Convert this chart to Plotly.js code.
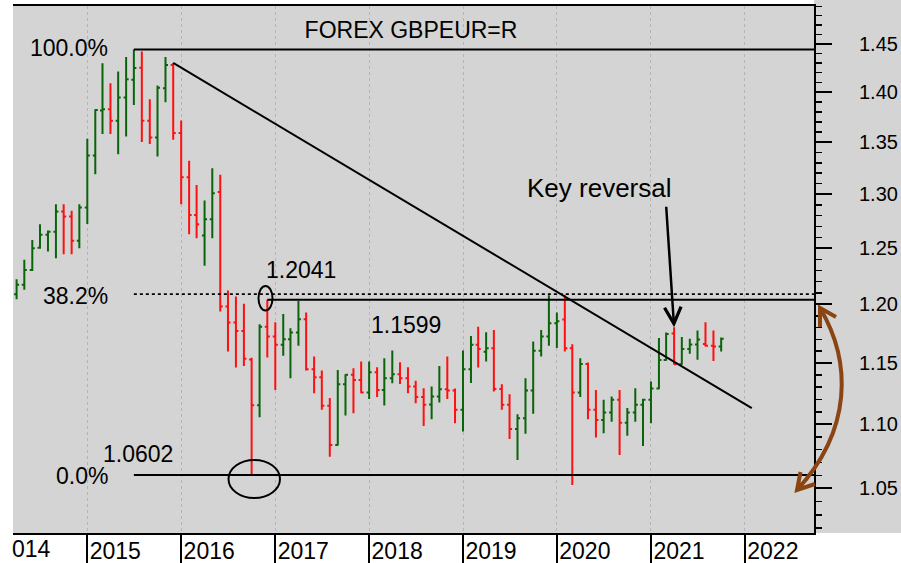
<!DOCTYPE html>
<html><head><meta charset="utf-8">
<script src="https://cdn.plot.ly/plotly-3.0.1.min.js"></script>
<style>html,body{margin:0;padding:0;background:#fff;}#chart{width:901px;height:563px;}</style>
</head><body><div id="chart"></div>
<script>
// ---- data: monthly bars GBPEUR ----
const months = [
'2014-04-01','2014-05-01','2014-06-01','2014-07-01','2014-08-01','2014-09-01','2014-10-01','2014-11-01','2014-12-01',
'2015-01-01','2015-02-01','2015-03-01','2015-04-01','2015-05-01','2015-06-01','2015-07-01','2015-08-01','2015-09-01','2015-10-01','2015-11-01','2015-12-01',
'2016-01-01','2016-02-01','2016-03-01','2016-04-01','2016-05-01','2016-06-01','2016-07-01','2016-08-01','2016-09-01','2016-10-01','2016-11-01','2016-12-01',
'2017-01-01','2017-02-01','2017-03-01','2017-04-01','2017-05-01','2017-06-01','2017-07-01','2017-08-01','2017-09-01','2017-10-01','2017-11-01','2017-12-01',
'2018-01-01','2018-02-01','2018-03-01','2018-04-01','2018-05-01','2018-06-01','2018-07-01','2018-08-01','2018-09-01','2018-10-01','2018-11-01','2018-12-01',
'2019-01-01','2019-02-01','2019-03-01','2019-04-01','2019-05-01','2019-06-01','2019-07-01','2019-08-01','2019-09-01','2019-10-01','2019-11-01','2019-12-01',
'2020-01-01','2020-02-01','2020-03-01','2020-04-01','2020-05-01','2020-06-01','2020-07-01','2020-08-01','2020-09-01','2020-10-01','2020-11-01','2020-12-01',
'2021-01-01','2021-02-01','2021-03-01','2021-04-01','2021-05-01','2021-06-01','2021-07-01','2021-08-01','2021-09-01','2021-10-01'];
const openP = [
1.2090,1.2172,1.2305,1.2505,1.2622,1.2650,1.2837,1.2791,1.2567,
1.2875,1.3371,1.3815,1.3828,1.3712,1.3945,1.4126,1.4250,1.3712,1.3546,1.4040,1.4278,
1.3590,1.3161,1.2806,1.2616,1.2766,1.3020,1.1982,1.1843,1.1771,1.1530,1.1152,1.1808,
1.1723,1.1653,1.1701,1.1757,1.1872,1.1449,1.1382,1.1148,1.0836,1.1325,1.1402,1.1360,
1.1256,1.1424,1.1278,1.1374,1.1407,1.1374,1.1305,1.1219,1.1160,1.1224,1.1284,1.1272,
1.1116,1.1449,1.1653,1.1595,1.1625,1.1286,1.1157,1.0963,1.1049,1.1272,1.1603,1.1723,
1.1838,1.1870,1.1625,1.1256,1.1492,1.1116,1.1035,1.1094,1.1197,1.1013,1.1094,1.1157,
1.1197,1.1290,1.1525,1.1750,1.1490,1.1617,1.1655,1.1660,1.1645,1.1640];
const highP = [
1.2222,1.2395,1.2576,1.2720,1.2662,1.2906,1.2906,1.2846,1.2906,
1.3534,1.3828,1.4298,1.4092,1.4212,1.4361,1.4440,1.4419,1.3929,1.4068,1.4361,1.4300,
1.3715,1.3319,1.3088,1.2940,1.3248,1.3184,1.2122,1.2069,1.2005,1.1545,1.1829,1.2041,
1.1846,1.1918,1.1795,1.2030,1.1929,1.1555,1.1437,1.1211,1.1443,1.1407,1.1457,1.1513,
1.1513,1.1465,1.1541,1.1605,1.1507,1.1465,1.1354,1.1292,1.1305,1.1476,1.1555,1.1290,
1.1605,1.1728,1.1808,1.1761,1.1780,1.1325,1.1243,1.1081,1.1374,1.1681,1.1780,1.2080,
1.1929,1.2085,1.1658,1.1541,1.1505,1.1278,1.1197,1.1223,1.1278,1.1130,1.1292,1.1205,
1.1346,1.1712,1.1757,1.1803,1.1720,1.1705,1.1774,1.1846,1.1774,1.1716];
const lowP = [
1.2046,1.2128,1.2296,1.2495,1.2470,1.2410,1.2446,1.2446,1.2500,
1.2723,1.3191,1.3580,1.3580,1.3384,1.3556,1.3871,1.3502,1.3482,1.3362,1.3899,1.3524,
1.2906,1.2628,1.2591,1.2341,1.2591,1.1938,1.1597,1.1462,1.1476,1.0602,1.1057,1.1546,
1.1278,1.1561,1.1374,1.1645,1.1437,1.1251,1.1116,1.0743,1.0831,1.1070,1.1089,1.1251,
1.1203,1.1219,1.1151,1.1333,1.1327,1.1251,1.1170,1.0987,1.1041,1.1175,1.1203,1.1009,
1.0942,1.1335,1.1462,1.1513,1.1264,1.1116,1.0882,1.0719,1.0924,1.1084,1.1555,1.1645,
1.1627,1.1597,1.0526,1.1219,1.1041,1.0894,1.0929,1.1021,1.0758,1.0908,1.1021,1.0828,
1.1008,1.1284,1.1520,1.1485,1.1485,1.1578,1.1527,1.1639,1.1518,1.1597];
const closeP = [
1.2172,1.2305,1.2500,1.2622,1.2650,1.2837,1.2791,1.2567,1.2875,
1.3371,1.3821,1.3828,1.3712,1.3945,1.4133,1.4247,1.3712,1.3546,1.4045,1.4278,1.3590,
1.3161,1.2806,1.2720,1.2766,1.3010,1.1982,1.1843,1.1771,1.1535,1.1152,1.1808,1.1723,
1.1653,1.1701,1.1757,1.1872,1.1449,1.1382,1.1148,1.0836,1.1325,1.1402,1.1360,1.1256,
1.1424,1.1278,1.1374,1.1407,1.1374,1.1305,1.1219,1.1157,1.1224,1.1284,1.1272,1.1116,
1.1449,1.1653,1.1617,1.1625,1.1286,1.1157,1.0963,1.1049,1.1272,1.1603,1.1723,1.1838,
1.1855,1.1625,1.1256,1.1492,1.1116,1.1035,1.1094,1.1197,1.1013,1.1094,1.1157,1.1197,
1.1290,1.1525,1.1746,1.1490,1.1617,1.1655,1.1698,1.1645,1.1640,1.1705];

// axis ticks
const yTickVals = [1.05,1.10,1.15,1.20,1.25,1.30,1.35,1.40,1.45];
const yTickText = ['1.05','1.10','1.15','1.20','1.25','1.30','1.35','1.40','1.45'];
const xTickVals = ['2015-01-01','2016-01-01','2017-01-01','2018-01-01','2019-01-01','2020-01-01','2021-01-01','2022-01-01'];
const xTickText = ['2015','2016','2017','2018','2019','2020','2021','2022'];

// annotated levels
const fibHigh = 1.4440, fibLow = 1.0602, fib382 = 1.2090;
const fibStart = '2015-07-01';
const resistance = 1.2041, resistanceStart = '2016-12-01';
const trendStart = ['2015-12-01', 1.4300], trendEnd = ['2022-01-28', 1.1130];
const keyReversal = ['2021-04-01', 1.1803];

const xRange = ['2014-03-18','2022-09-27'];
const yRange = [1.01648, 1.4904];

// minor tick positions (every 0.01)
const minorVals = [];
for (let k = 102; k <= 149; k++) { if (k % 5 !== 0) minorVals.push(k/100); }

// pixel -> paper helpers for decorations
const L = 13, R = 814, T = 6, B = 533;
const px = v => (v - L) / (R - L);
const py = v => (B - v) / (B - T);

const FONT = 'Liberation Sans, Arial, sans-serif';

const ohlc = {
  type: 'ohlc', x: months, open: openP, high: highP, low: lowP, close: closeP,
  increasing: {line: {color: '#0a640a', width: 2}},
  decreasing: {line: {color: '#ff1010', width: 2}},
  tickwidth: 0.35, showlegend: false, hoverinfo: 'skip'
};
const dummy = {type: 'scatter', x: [], y: [], yaxis: 'y2', showlegend: false, hoverinfo: 'skip'};

const brownPath =
  `M ${px(820)},${py(308)} C ${px(852)},${py(362)} ${px(852)},${py(430)} ${px(797)},${py(490)} ` +
  `M ${px(820)},${py(327)} L ${px(820)},${py(308)} L ${px(836)},${py(317)} ` +
  `M ${px(815)},${py(484)} L ${px(797)},${py(490)} L ${px(800.5)},${py(472)}`;

const shapes = [
  // gray right column (axis area)
  {type:'rect', xref:'paper', yref:'paper', x0:1, x1:px(901), y0:0, y1:py(0), fillcolor:'#d4d4d4', line:{width:0}, layer:'below'},
  {type:'line', xref:'x', yref:'y', x0:fibStart, x1:xRange[1], y0:fibHigh, y1:fibHigh, line:{color:'#000', width:2}},
  {type:'line', xref:'x', yref:'y', x0:fibStart, x1:xRange[1], y0:fib382, y1:fib382, line:{color:'#000', width:1.6, dash:'dot'}},
  {type:'line', xref:'x', yref:'y', x0:fibStart, x1:xRange[1], y0:fibLow, y1:fibLow, line:{color:'#000', width:2}},
  {type:'line', xref:'x', yref:'y', x0:resistanceStart, x1:xRange[1], y0:resistance, y1:resistance, line:{color:'#000', width:2}},
  {type:'line', xref:'x', yref:'y', x0:trendStart[0], y0:trendStart[1], x1:trendEnd[0], y1:trendEnd[1], line:{color:'#000', width:2}},
  {type:'circle', xref:'paper', yref:'paper', x0:px(258.5), x1:px(272.5), y0:py(310.5), y1:py(286), line:{color:'#000', width:2}},
  {type:'circle', xref:'paper', yref:'paper', x0:px(228.5), x1:px(280), y0:py(498), y1:py(460), line:{color:'#000', width:2}},
  {type:'path', xref:'paper', yref:'paper', path: brownPath, line:{color:'#8b4513', width:4}}
];

function lab(text, x, y, xanchor, size) {
  return {xref:'paper', yref:'paper', x:px(x), y:py(y), xanchor:xanchor, yanchor:'middle',
          text:text, showarrow:false, font:{family:FONT, size:size || 23, color:'#000'}};
}
const annotations = [
  lab('100.0%', 110, 48, 'right'),
  lab('38.2%', 110, 296, 'right'),
  lab('0.0%', 110, 476, 'right'),
  lab('1.0602', 101, 454, 'left'),
  lab('1.2041', 264, 270, 'left'),
  lab('1.1599', 369, 325, 'left'),
  lab('014', 10, 549, 'left'),
  lab('Key reversal', 525, 188, 'left', 26),
  {xref:'x', yref:'y', x:keyReversal[0], y:Math.log10(keyReversal[1]), text:'', showarrow:true,
   ax:-8, ay:-122, arrowhead:5, arrowsize:1.3, arrowwidth:2.5, arrowcolor:'#000', standoff:0}
];

const layout = {
  width: 901, height: 563,
  margin: {l:L, r:901-R, t:T, b:563-B},
  paper_bgcolor:'#ffffff', plot_bgcolor:'#d4d4d4',
  font: {family: FONT, color:'#000'},
  showlegend:false,
  title: {text:'FOREX GBPEUR=R', x:411/901, xanchor:'center', y:1-30/563, yanchor:'middle',
          font:{family:FONT, size:23, color:'#000'}},
  xaxis: {
    type:'date', range:xRange, rangeslider:{visible:false},
    tickmode:'array', tickvals:xTickVals, ticktext:xTickText,
    ticks:'outside', ticklen:30, tickwidth:2, tickcolor:'#000',
    ticklabelshift:28, ticklabelstandoff:-34,
    tickfont:{family:FONT, size:23, color:'#000'},
    showline:true, linecolor:'#000', linewidth:2, mirror:true,
    showgrid:true, gridcolor:'#b4b4b4', gridwidth:1, griddash:'dot',
    zeroline:false, fixedrange:true
  },
  yaxis: {
    type:'log', side:'right', range:[Math.log10(yRange[0]), Math.log10(yRange[1])],
    tickmode:'array', tickvals:yTickVals, ticktext:yTickText,
    ticks:'outside', ticklen:16, tickwidth:2, tickcolor:'#000',
    ticklabelstandoff:23,
    tickfont:{family:FONT, size:20, color:'#000'},
    showline:true, linecolor:'#000', linewidth:2,
    showgrid:false, zeroline:false, fixedrange:true
  },
  yaxis2: {
    type:'log', side:'right', overlaying:'y', anchor:'x',
    range:[Math.log10(yRange[0]), Math.log10(yRange[1])],
    tickmode:'array', tickvals:minorVals, ticks:'outside', ticklen:7, tickwidth:1.5, tickcolor:'#000',
    showticklabels:false, showline:false, showgrid:false, zeroline:false, fixedrange:true
  },
  shapes: shapes,
  annotations: annotations
};

Plotly.newPlot('chart', [ohlc, dummy], layout, {displayModeBar:false, staticPlot:true});
</script>
</body></html>
